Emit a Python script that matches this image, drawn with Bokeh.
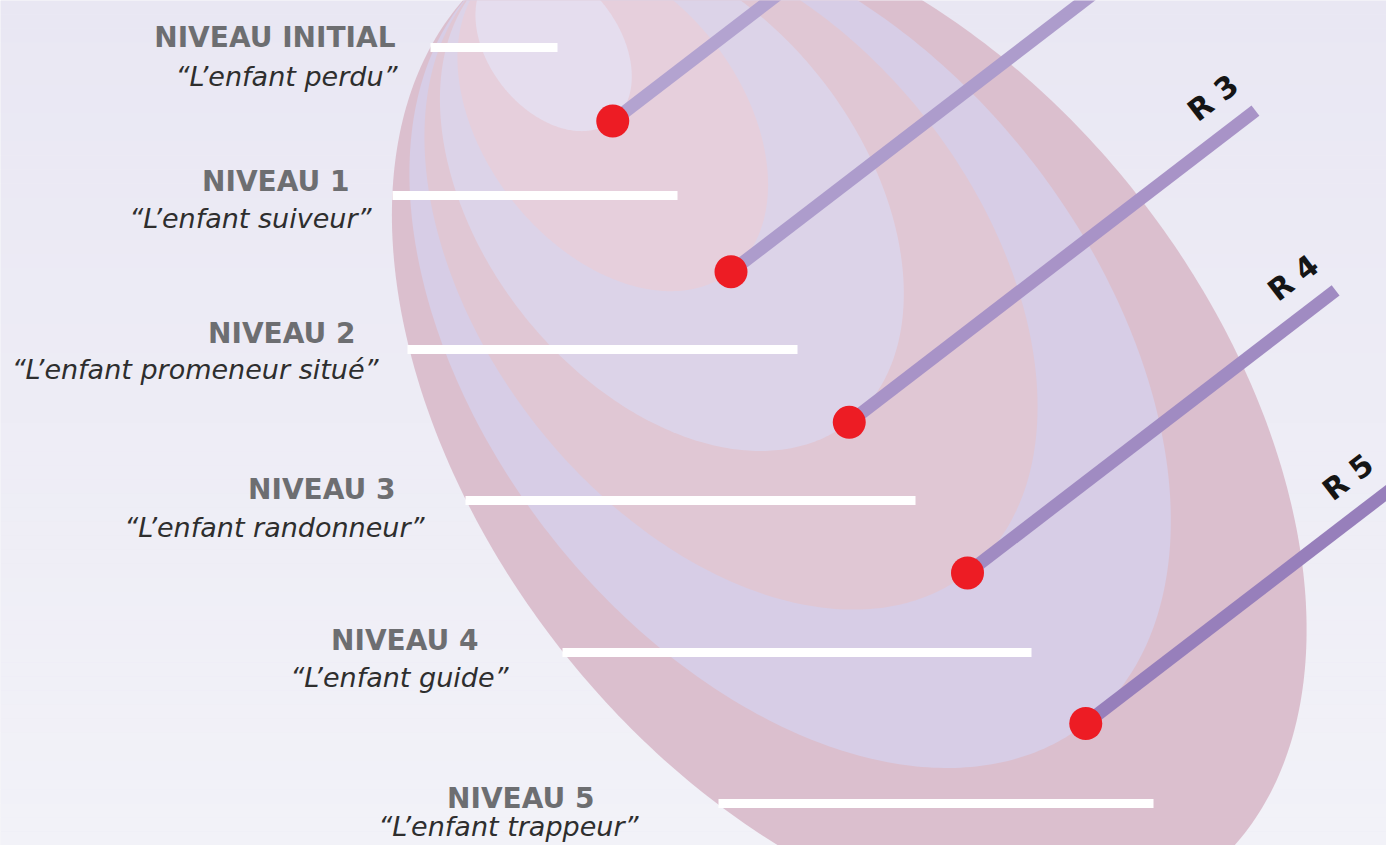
import numpy as np
from bokeh.plotting import figure
from bokeh.models import Range1d
from bokeh.embed import file_html
from bokeh.resources import INLINE
from bokeh.core.properties import value

# ---------------- content ----------------
levels = ["NIVEAU INITIAL", "NIVEAU 1", "NIVEAU 2", "NIVEAU 3", "NIVEAU 4", "NIVEAU 5"]
roles = ["“L’enfant perdu”", "“L’enfant suiveur”", "“L’enfant promeneur situé”",
         "“L’enfant randonneur”", "“L’enfant guide”", "“L’enfant trappeur”"]
ring_index = [1, 2, 3, 4, 5]          # rings that carry a radius line and a dot
ring_labels = ["R 3", "R 4", "R 5"]   # labels visible in the picture
ring_label_index = [3, 4, 5]

# ---------------- layout (picture pixel coordinates, y downwards) ----------------
W, H = 1386, 845
tip = np.array([494.0, -30.0])            # common upper-left tip of the nested ovals
step = np.array([118.25, 150.6])          # shift of the far tip from one oval to the next
u = step / np.hypot(*step)                # long-axis direction
nrm = np.array([u[1], -u[0]])             # perpendicular, pointing up-right
semi_major = [k * np.hypot(*step) / 2 for k in range(1, 7)]
semi_minor = [65, 128, 190, 248, 305, 367]
fills = ["#e5ddee", "#e6cfdc", "#dcd3e8", "#e0c7d4", "#d7cde6", "#dbbfce"]

bar_y = [47, 195, 349, 500, 652, 803]
bar_x0 = [430, 392, 407, 465, 562, 718]
bar_x1 = [557, 677, 797, 915, 1031, 1153]

level_right = [395, 349, 355, 395, 478, 594]
level_base = [37, 181, 333, 489, 640, 798]
role_right = [397, 371, 378, 424, 508, 638]
role_base = [76, 218, 369, 527, 677, 826]

line_len = [700, 700, 512, 464, 384]
line_colors = ["#b3a3d0", "#ad9ccc", "#a893c7", "#a08bc2", "#977fbb"]
ang = np.radians(37.5)
d = np.array([np.cos(ang), -np.sin(ang)])     # radius line direction (up-right)
dn = np.array([-np.sin(ang), -np.cos(ang)])   # its upper-left normal

p = figure(width=W, height=H, x_range=Range1d(0, W), y_range=Range1d(H, 0),
           output_backend="svg", toolbar_location=None,
           min_border=0, outline_line_color=None)
p.axis.visible = False
p.grid.visible = False
p.background_fill_color = "#ecebf4"
p.border_fill_color = "#ecebf4"

# background vertical gradient
top_c = np.array([233, 231, 243])
bot_c = np.array([242, 242, 248])
nb = 60
edges = np.linspace(0, H, nb + 1)
cols = []
for i in range(nb):
    c = top_c + (bot_c - top_c) * (i + 0.5) / nb
    cols.append("#%02x%02x%02x" % tuple(int(round(v)) for v in c))
p.quad(left=0, right=W, top=edges[:-1], bottom=edges[1:], fill_color=cols, line_color=None)

# nested ovals, outermost first
t = np.linspace(0, 2 * np.pi, 400)
for k in range(5, -1, -1):
    a, b = semi_major[k], semi_minor[k]
    c = tip + a * u
    xs = c[0] + a * np.cos(t) * u[0] + b * np.sin(t) * nrm[0]
    ys = c[1] + a * np.cos(t) * u[1] + b * np.sin(t) * nrm[1]
    p.patch(xs, ys, fill_color=fills[k], line_color=None)

# white level bars
p.quad(left=bar_x0, right=bar_x1, top=[y - 4.5 for y in bar_y],
       bottom=[y + 4.5 for y in bar_y], fill_color="white", line_color=None)

# radius lines and dots
dots = np.array([tip + k * step for k in ring_index])
ends = np.array([dots[i] + line_len[i] * d for i in range(len(ring_index))])
p.segment(x0=dots[:, 0], y0=dots[:, 1], x1=ends[:, 0], y1=ends[:, 1],
          line_width=13, line_color=line_colors, line_cap="butt")
p.scatter(dots[:, 0], dots[:, 1], size=33, marker="circle",
          fill_color="#ed1c24", line_color=None)

# ring labels
lab_pos = np.array([ends[k - 1] - 26 * d + 36 * dn for k in ring_label_index])
p.text(x=lab_pos[:, 0], y=lab_pos[:, 1], text=ring_labels, angle=ang,
       text_align="center", text_baseline="middle", text_font=value("DejaVu Sans"),
       text_font_style="bold", text_font_size="30px", text_color="#151515")

# level titles and roles
p.text(x=level_right, y=level_base, text=levels, text_align="right",
       text_baseline="alphabetic", text_font=value("DejaVu Sans"),
       text_font_style="bold", text_font_size="28px", text_color="#6d6e71")
p.text(x=role_right, y=role_base, text=roles, text_align="right",
       text_baseline="alphabetic", text_font=value("DejaVu Sans"),
       text_font_style="italic", text_font_size="27px", text_color="#2e2e2e")

open("out.html", "w").write(file_html(p, INLINE))
